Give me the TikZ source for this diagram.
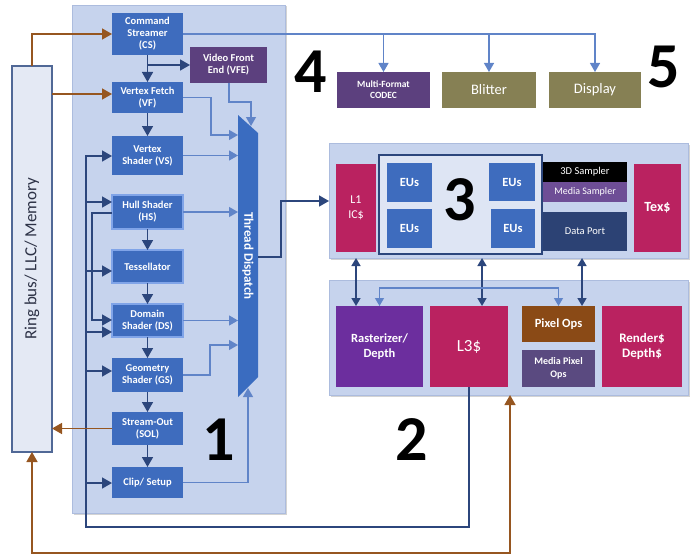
\documentclass[tikz,border=0pt]{standalone}
\usepackage{fontspec}
\setmainfont{Carlito}
\usetikzlibrary{arrows.meta,shadows}

\definecolor{panelbg}{RGB}{198,211,237}
\definecolor{panelline}{RGB}{172,188,222}
\definecolor{ringbg}{RGB}{228,233,244}
\definecolor{ringline}{RGB}{80,104,150}
\definecolor{ringtext}{RGB}{45,50,70}
\definecolor{unitblue}{RGB}{62,108,190}
\definecolor{glowblue}{RGB}{128,164,232}
\definecolor{tdblue}{RGB}{58,108,192}
\definecolor{vfepurple}{RGB}{92,64,126}
\definecolor{blitolive}{RGB}{134,128,84}
\definecolor{cachered}{RGB}{186,34,96}
\definecolor{eubg}{RGB}{222,229,244}
\definecolor{mspurple}{RGB}{110,78,150}
\definecolor{dpnavy}{RGB}{44,66,116}
\definecolor{rastpurple}{RGB}{108,46,158}
\definecolor{pixbrown}{RGB}{138,74,22}
\definecolor{mpxpurple}{RGB}{90,74,128}
\definecolor{dkline}{RGB}{44,70,124}
\definecolor{ltline}{RGB}{96,132,200}
\definecolor{brline}{RGB}{150,86,32}

\begin{document}
\begin{tikzpicture}[x=1pt, y=-1pt,
        every node/.style={inner sep=0pt, outer sep=0pt, align=center, text=white},
        sz/.style 2 args={minimum width=#1pt, minimum height=#2pt, anchor=north west},
        panel/.style={fill=panelbg, draw=panelline, line width=0.6pt, drop shadow={shadow xshift=1.5pt, shadow yshift=-1.5pt, opacity=0.35}},
        unit/.style={fill=unitblue, font=\fontsize{10.5}{12}\selectfont\bfseries},
        glow/.style={unit, draw=glowblue, line width=2.5pt},
        bignum/.style={text=black, font=\fontsize{64}{64}\selectfont\bfseries},
        dk/.style={draw=dkline, line width=1.6pt, -{Triangle[length=10pt,width=11pt]}},
        dkboth/.style={draw=dkline, line width=1.6pt, {Triangle[length=8pt,width=9pt]}-{Triangle[length=8pt,width=9pt]}},
        lt/.style={draw=ltline, line width=1.3pt, -{Triangle[length=9pt,width=10pt]}},
        ltboth/.style={draw=ltline, line width=1.3pt, {Triangle[length=8pt,width=9pt]}-{Triangle[length=8pt,width=9pt]}},
        br/.style={draw=brline, line width=1.4pt, -{Triangle[length=10pt,width=11pt]}},
        brboth/.style={draw=brline, line width=1.4pt, {Triangle[length=10pt,width=11pt]}-{Triangle[length=10pt,width=11pt]}}]
    \useasboundingbox (0,0) rectangle (700,559);

    \node[panel, sz={213}{508}] (stage1) at (72,5) {};
    \node[panel, sz={359}{115}] (stage3) at (329,143) {};
    \node[panel, sz={359}{115}] (stage2) at (329,280) {};

    \node[fill=ringbg, draw=ringline, line width=1.2pt, sz={40}{386}] (ring) at (12,66) {};
    \node[rotate=90, text=ringtext, font=\fontsize{17}{17}\selectfont] (ringlbl) at (ring.center) {Ring bus/ LLC/ Memory};

    \node[unit, sz={71}{42}] (cs) at (112,13) {Command\\Streamer\\(CS)};
    \node[unit, fill=vfepurple, sz={77}{36}] (vfe) at (190,47) {Video Front\\End (VFE)};
    \node[unit, sz={71}{31}] (vf) at (112,82) {Vertex Fetch\\(VF)};
    \node[unit, sz={71}{39}] (vs) at (112,136) {Vertex\\Shader (VS)};
    \node[glow, sz={71}{34}] (hs) at (112,195) {Hull Shader\\(HS)};
    \node[glow, sz={71}{33}] (tess) at (112,250) {Tessellator};
    \node[glow, sz={71}{33}] (ds) at (112,304) {Domain\\Shader (DS)};
    \node[unit, sz={71}{34}] (gs) at (112,358) {Geometry\\Shader (GS)};
    \node[unit, sz={71}{33}] (sol) at (112,412) {Stream-Out\\(SOL)};
    \node[unit, sz={71}{31}] (clip) at (112,467) {Clip/ Setup};

    \node[sz={20}{282}] (tdbox) at (238,115) {};
    \fill[tdblue] (tdbox.north west) -- ([yshift=-18pt]tdbox.north east) -- ([yshift=20pt]tdbox.south east) -- (tdbox.south west) -- cycle;
    \node[rotate=-90, font=\fontsize{13}{13}\selectfont\bfseries] (td) at (tdbox.center) {Thread Dispatch};

    \node[fill=vfepurple, font=\fontsize{9.5}{11}\selectfont\bfseries, sz={93}{36}] (codec) at (337,72) {Multi-Format\\CODEC};
    \node[fill=blitolive, font=\fontsize{14.5}{15}\selectfont, sz={94}{36}] (blit) at (442,72) {Blitter};
    \node[fill=blitolive, font=\fontsize{14.5}{15}\selectfont, sz={92}{36}] (disp) at (549,72) {Display};

    \node[fill=cachered, font=\fontsize{12}{15}\selectfont, sz={40}{88}] (l1) at (336,164) {L1\\IC\$};
    \node[fill=eubg, draw=dkline, line width=1.5pt, sz={163}{99}] (eus) at (379,155) {};
    \node[unit, font=\fontsize{12.5}{12}\selectfont\bfseries, sz={45}{39}] (eu1) at (387,163) {EUs};
    \node[unit, font=\fontsize{12.5}{12}\selectfont\bfseries, sz={45}{39}] (eu2) at (387,209) {EUs};
    \node[unit, font=\fontsize{12.5}{12}\selectfont\bfseries, sz={46}{38}] (eu3) at (489,163) {EUs};
    \node[unit, font=\fontsize{12.5}{12}\selectfont\bfseries, sz={44}{39}] (eu4) at (491,209) {EUs};
    \node[fill=black, font=\fontsize{10.5}{10}\selectfont, sz={84}{20}] (samp3d) at (543,162) {3D Sampler};
    \node[fill=mspurple, font=\fontsize{10}{10}\selectfont, sz={84}{20}] (mediasamp) at (543,182) {Media Sampler};
    \node[fill=dpnavy, font=\fontsize{10.5}{10}\selectfont, sz={84}{39}] (dport) at (543,212) {Data Port};
    \node[fill=cachered, font=\fontsize{14}{14}\selectfont\bfseries, sz={47}{88}] (tex) at (634,164) {Tex\$};

    \node[fill=rastpurple, font=\fontsize{12.5}{15}\selectfont\bfseries, sz={87}{81}] (rast) at (336,306) {Rasterizer/\\Depth};
    \node[fill=cachered, font=\fontsize{17}{17}\selectfont, sz={78}{81}] (l3) at (430,306) {L3\$};
    \node[fill=pixbrown, font=\fontsize{12.5}{12}\selectfont\bfseries, sz={73}{36}] (pix) at (522,306) {Pixel Ops};
    \node[fill=mpxpurple, font=\fontsize{10}{13}\selectfont\bfseries, sz={73}{37}] (mpix) at (522,350) {Media Pixel\\Ops};
    \node[fill=cachered, font=\fontsize{13}{15}\selectfont\bfseries, sz={80}{81}] (rdc) at (602,306) {Render\$\\Depth\$};

    \node[bignum] (n1) at (219,440) {1};
    \node[bignum] (n2) at (412,440) {2};
    \node[bignum] (n3) at (460,200) {3};
    \node[bignum] (n4) at (311,72) {4};
    \node[bignum] (n5) at (664,67) {5};

    \draw[dk] (cs.south) -- (vf.north);
    \draw[dk] (cs.south |- 0,65) -- (vfe.west |- 0,65);
    \draw[dk] (vf.south) -- (vs.north);
    \draw[dk] (hs.south) -- (tess.north);
    \draw[dk] (tess.south) -- (ds.north);
    \draw[dk] (ds.south) -- (gs.north);
    \draw[dk] (gs.south) -- (sol.north);
    \draw[dk] (sol.south) -- (clip.north);

    \draw[dk] (l3.south) -- (l3.south |- 0,527) -- (86,527) -- (86,156) -- (vs.west |- 0,156);
    \draw[dk] (86,202) -- (hs.west |- 0,202);
    \draw[dk] (86,271) -- (tess.west |- 0,271);
    \draw[dk] (86,332) -- (ds.west |- 0,332);
    \draw[dk] (86,371) -- (gs.west |- 0,371);
    \draw[dk] (86,483) -- (clip.west |- 0,483);
    \draw[dk] (hs.west |- 0,213) -- (92,213) -- (92,320) -- (ds.west |- 0,320);

    \draw[lt] (vfe.south -| 229,0) -- (229,102) -- (251,102) -- (251,126);
    \draw[lt] (vf.east) -- (vf.east -| 211,0) -- (211,135) -- (tdbox.west |- 0,135);
    \draw[lt] (vs.east) -- (vs.east -| tdbox.west);
    \draw[lt] (hs.east) -- (hs.east -| tdbox.west);
    \draw[lt] (ds.east) -- (ds.east -| tdbox.west);
    \draw[lt] (gs.east) -- (gs.east -| 210,0) -- (210,345) -- (tdbox.west |- 0,345);
    \draw[lt] (clip.east) -- (clip.east -| 248,0) -- (248,388);
    \draw[dk] (tdbox.east |- 0,257) -- (281,257) -- (281,201) -- (stage3.west |- 0,201);

    \draw[br] (ring.north) |- (cs.west);
    \draw[br] (ring.east |- 0,94) -- (vf.west |- 0,94);
    \draw[br] (sol.west) -- (sol.west -| ring.east);
    \draw[brboth] (ring.south) -- (ring.south |- 0,553) -| (stage2.south -| 510,0);

    \draw[lt] (cs.east) -| (disp.north);
    \draw[lt] (codec.north |- cs.east) -- (codec.north);
    \draw[lt] (blit.north |- cs.east) -- (blit.north);

    \draw[dkboth] (l1.south |- stage3.south) -- (l1.south |- rast.north);
    \draw[dkboth] (stage3.south -| 482,0) -- (l3.north -| 482,0);
    \draw[dkboth] (stage3.south -| 582,0) -- (pix.north -| 582,0);
    \draw[ltboth] (rast.north) -- (rast.north |- 0,288) -- (pix.north |- 0,288) -- (pix.north);
\end{tikzpicture}
\end{document}
